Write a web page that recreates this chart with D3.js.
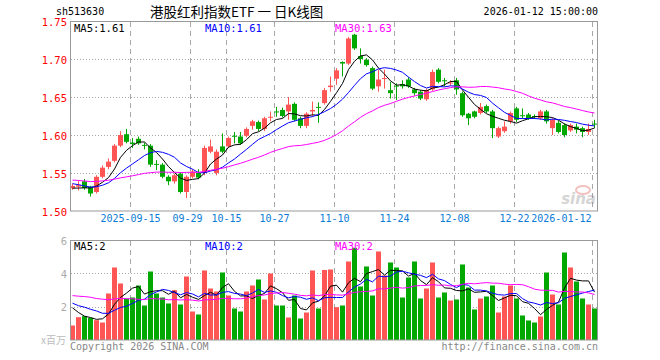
<!DOCTYPE html>
<html><head><meta charset="utf-8">
<script src="https://cdn.jsdelivr.net/npm/d3@7"></script>
<style>body{margin:0;background:#fff}svg{display:block}</style>
</head><body>
<svg id="c" width="660" height="360"></svg>
<script>
const dates = [
"2025-09-01","2025-09-02","2025-09-03","2025-09-04","2025-09-05","2025-09-08","2025-09-09","2025-09-10","2025-09-11","2025-09-12",
"2025-09-15","2025-09-16","2025-09-17","2025-09-18","2025-09-19","2025-09-22","2025-09-23","2025-09-24","2025-09-25","2025-09-26",
"2025-09-29","2025-09-30","2025-10-09","2025-10-10","2025-10-13","2025-10-14","2025-10-15","2025-10-16","2025-10-17","2025-10-20",
"2025-10-21","2025-10-22","2025-10-23","2025-10-24","2025-10-27","2025-10-28","2025-10-29","2025-10-30","2025-10-31","2025-11-03",
"2025-11-04","2025-11-05","2025-11-06","2025-11-07","2025-11-10","2025-11-11","2025-11-12","2025-11-13","2025-11-14","2025-11-17",
"2025-11-18","2025-11-19","2025-11-20","2025-11-21","2025-11-24","2025-11-25","2025-11-26","2025-11-27","2025-11-28","2025-12-01",
"2025-12-02","2025-12-03","2025-12-04","2025-12-05","2025-12-08","2025-12-09","2025-12-10","2025-12-11","2025-12-12","2025-12-15",
"2025-12-16","2025-12-17","2025-12-18","2025-12-19","2025-12-22","2025-12-23","2025-12-24","2025-12-25","2025-12-26","2025-12-29",
"2025-12-30","2025-12-31","2026-01-05","2026-01-06","2026-01-07","2026-01-08","2026-01-09","2026-01-12"];

const opens = [
1.530,1.532,1.539,1.532,1.525,1.545,1.558,1.566,1.586,1.601,
1.590,1.595,1.587,1.586,1.562,1.561,1.545,1.539,1.549,1.525,
1.545,1.550,1.550,1.578,1.550,1.585,1.585,1.599,1.598,1.599,
1.612,1.617,1.608,1.623,1.631,1.633,1.631,1.641,1.622,1.612,
1.631,1.637,1.642,1.663,1.674,1.696,1.694,1.732,1.704,1.699,
1.688,1.664,1.674,1.659,1.665,1.667,1.673,1.660,1.657,1.647,
1.660,1.686,1.672,1.668,1.672,1.655,1.628,1.631,1.629,1.638,
1.631,1.598,1.605,1.618,1.635,1.626,1.627,1.625,1.622,1.631,
1.609,1.616,1.613,1.606,1.611,1.609,1.604,1.615];
const highs = [
1.536,1.540,1.542,1.533,1.547,1.560,1.569,1.588,1.605,1.608,
1.596,1.598,1.590,1.588,1.567,1.563,1.547,1.549,1.551,1.547,
1.555,1.555,1.586,1.594,1.581,1.602,1.598,1.604,1.604,1.610,
1.620,1.619,1.624,1.631,1.637,1.636,1.650,1.643,1.624,1.630,
1.644,1.643,1.662,1.677,1.688,1.697,1.729,1.733,1.714,1.701,
1.690,1.686,1.686,1.670,1.668,1.672,1.676,1.662,1.659,1.661,
1.686,1.688,1.675,1.672,1.675,1.657,1.629,1.632,1.642,1.640,
1.633,1.611,1.618,1.631,1.637,1.635,1.629,1.627,1.633,1.633,
1.622,1.619,1.615,1.615,1.615,1.611,1.615,1.620];
const lows = [
1.528,1.527,1.528,1.519,1.523,1.543,1.555,1.564,1.584,1.589,
1.583,1.587,1.581,1.558,1.554,1.543,1.534,1.536,1.523,1.517,
1.543,1.542,1.547,1.576,1.547,1.576,1.583,1.589,1.587,1.597,
1.607,1.605,1.605,1.618,1.624,1.623,1.620,1.618,1.609,1.609,
1.624,1.616,1.640,1.657,1.666,1.677,1.692,1.712,1.694,1.690,
1.659,1.657,1.661,1.648,1.646,1.661,1.662,1.652,1.646,1.645,
1.658,1.668,1.664,1.665,1.653,1.624,1.613,1.622,1.627,1.629,
1.596,1.596,1.603,1.615,1.617,1.622,1.620,1.621,1.620,1.615,
1.600,1.602,1.597,1.604,1.602,1.597,1.600,1.609];
const closes = [
1.533,1.534,1.530,1.523,1.545,1.557,1.565,1.586,1.600,1.591,
1.588,1.589,1.586,1.561,1.561,1.545,1.539,1.547,1.525,1.545,
1.552,1.544,1.583,1.585,1.578,1.578,1.596,1.598,1.589,1.608,
1.618,1.608,1.622,1.624,1.630,1.625,1.640,1.620,1.612,1.628,
1.633,1.636,1.659,1.665,1.685,1.694,1.727,1.714,1.700,1.692,
1.661,1.673,1.675,1.655,1.664,1.664,1.664,1.655,1.648,1.659,
1.683,1.670,1.671,1.669,1.660,1.626,1.622,1.624,1.637,1.631,
1.609,1.609,1.611,1.629,1.620,1.625,1.622,1.624,1.631,1.618,
1.620,1.604,1.600,1.613,1.607,1.604,1.608,1.614];
const volumes = [
0.87,1.37,1.43,1.33,1.19,1.05,2.79,4.35,3.39,2.49,
2.55,3.27,2.07,4.11,2.79,2.55,2.19,2.99,2.13,3.81,
1.71,1.53,4.17,3.09,2.91,4.05,2.67,1.89,1.71,2.91,
3.27,3.63,2.43,3.99,2.07,2.07,1.35,2.67,1.29,1.65,
4.17,1.89,4.20,4.23,1.97,2.07,4.71,5.53,3.21,4.41,
2.67,5.31,3.87,4.65,4.35,2.55,3.75,4.71,2.49,3.09,
4.65,2.55,2.85,2.37,2.43,4.53,3.15,1.83,2.49,2.61,
3.27,1.65,2.61,3.27,2.49,1.47,1.17,1.05,1.41,4.05,
2.73,2.13,5.25,4.35,3.51,2.49,2.13,1.89];
// closes and volumes of the 29 sessions before the first visible one (for moving averages)
const priorCloses = [1.548,1.552,1.545,1.540,1.536,1.538,1.544,1.549,1.551,1.546,
1.541,1.537,1.535,1.539,1.543,1.547,1.544,1.540,1.538,1.547,
1.548,1.545,1.541,1.538,1.538,1.533,1.528,1.525,1.531];
const priorVolumes = [2.4,2.1,2.6,3.5,2.2,3.8,2.9,2.4,3.1,2.7,
4.2,2.5,2.3,3.3,2.8,3.6,2.6,2.9,3.1,2.8,
2.9,2.3,2.6,2.2,2.45,2.77,2.53,1.73,1.75];
const priceTicks = [1.50,1.55,1.60,1.65,1.70,1.75];
const volTicks = [2,4,6];
const dateTicks = ["2025-09-15","2025-09-29","2025-10-15","2025-10-27","2025-11-10","2025-11-24","2025-12-08","2025-12-22","2026-01-12"];
const dateTickLabels = ["2025-09-15","09-29","10-15","10-27","11-10","11-24","12-08","12-22","2026-01-12"];
const code = "sh513630";
const title = "港股红利指数ETF 一 日K线图";
const stamp = "2026-01-12 15:00:00";

const RED = "#ff5555", GREEN = "#00a800", GRID = "#a8a8a8", FRAME = "#999";
const MONO = "'DejaVu Sans Mono', monospace";
const svg = d3.select("#c");
const n = dates.length;
const x = d3.scaleLinear().domain([0, n]).range([70, 598]);
const yP = d3.scaleLinear().domain([1.50, 1.75]).range([211, 21]);
const yV = d3.scaleLinear().domain([0, 6]).range([340, 240]);
const cx = i => x(i) + 2.5;
const px = v => Math.round(v) + 0.5;

function movingAvg(prior, series, k) {
  const all = prior.concat(series), off = prior.length;
  return series.map((_, i) => d3.mean(all.slice(off + i - k + 1, off + i + 1)));
}

// header
svg.append("text").attr("x", 56).attr("y", 15).attr("font-family", MONO).attr("font-size", 10).attr("fill", "#000").text(code);
svg.append("text").attr("x", 150).attr("y", 17).attr("font-family", "'Noto Sans CJK SC', sans-serif").attr("font-size", 13.5).attr("fill", "#000").text(title);
svg.append("text").attr("x", 598).attr("y", 15).attr("text-anchor", "end").attr("font-family", MONO).attr("font-size", 10).attr("fill", "#000").text(stamp);

function panel(top, bottom, yScale, hTicks) {
  const g = svg.append("g");
  hTicks.forEach(t => {
    g.append("line").attr("x1", 71).attr("x2", 597).attr("y1", px(yScale(t))).attr("y2", px(yScale(t)))
      .attr("stroke", GRID).attr("stroke-dasharray", "1,2");
  });
  dateTicks.forEach(d => {
    const xx = px(x(dates.indexOf(d)));
    g.append("line").attr("x1", xx).attr("x2", xx).attr("y1", top).attr("y2", bottom)
      .attr("stroke", GRID).attr("stroke-dasharray", "5,4");
  });
  return g;
}
panel(22, 211, yP, [1.55, 1.60, 1.65, 1.70]);
panel(241, 340, yV, [2, 4]);

// price axis
const pAxis = svg.append("g").attr("transform", "translate(67,0)")
  .call(d3.axisLeft(yP).tickValues(priceTicks).tickFormat(d3.format(".2f")).tickSize(0).tickPadding(0));
pAxis.select(".domain").remove();
pAxis.selectAll("text").attr("font-family", MONO).attr("font-size", 10.5).attr("fill", "#ff0000").attr("dy", "0.4em");

// volume axis
const vAxis = svg.append("g").attr("transform", "translate(67,0)")
  .call(d3.axisLeft(yV).tickValues(volTicks).tickFormat(d3.format("d")).tickSize(0).tickPadding(0));
vAxis.select(".domain").remove();
vAxis.selectAll("text").attr("font-family", MONO).attr("font-size", 10.5).attr("fill", "#aaa").attr("dy", "0.4em");

// date axis
const dAxis = svg.append("g").attr("transform", "translate(0,214)")
  .call(d3.axisBottom(x).tickValues(dateTicks.map(d => dates.indexOf(d)))
    .tickFormat((d, i) => dateTickLabels[i]).tickSize(0).tickPadding(0));
dAxis.select(".domain").remove();
dAxis.selectAll("text").attr("font-family", MONO).attr("font-size", 10).attr("fill", "#0a7bd6").attr("dy", "0.8em")
  .attr("text-anchor", (d, i) => i === dateTicks.length - 1 ? "end" : "middle")
  .attr("dx", (d, i) => i === dateTicks.length - 1 ? -1 : (i === 1 ? -3 : 0));

// candles
const up = i => closes[i] >= opens[i];
const cg = svg.append("g");
cg.selectAll("line.wick").data(d3.range(n)).join("line")
  .attr("x1", i => cx(i)).attr("x2", i => cx(i))
  .attr("y1", i => yP(highs[i])).attr("y2", i => yP(lows[i]))
  .attr("stroke", i => up(i) ? RED : GREEN).attr("stroke-width", 1);
cg.selectAll("rect.body").data(d3.range(n)).join("rect")
  .attr("x", i => x(i)).attr("width", 5)
  .attr("y", i => yP(Math.max(opens[i], closes[i])))
  .attr("height", i => Math.max(1, yP(Math.min(opens[i], closes[i])) - yP(Math.max(opens[i], closes[i]))))
  .attr("fill", i => up(i) ? RED : GREEN);

// price MAs
const maDefs = [[5, "#000000"], [10, "#0000ff"], [30, "#ff00ff"]];
const lineP = d3.line().x((d, i) => cx(i)).y(d => yP(d));
maDefs.forEach(([k, c]) => {
  svg.append("path").datum(movingAvg(priorCloses, closes, k)).attr("d", lineP)
    .attr("fill", "none").attr("stroke", c).attr("stroke-width", 1);
});

// volume bars
svg.append("g").selectAll("rect").data(d3.range(n)).join("rect")
  .attr("x", i => x(i)).attr("width", 5)
  .attr("y", i => yV(volumes[i])).attr("height", i => yV(0) - yV(volumes[i]))
  .attr("fill", i => up(i) ? RED : GREEN);
const lineV = d3.line().x((d, i) => cx(i)).y(d => yV(d));
maDefs.forEach(([k, c]) => {
  svg.append("path").datum(movingAvg(priorVolumes, volumes, k)).attr("d", lineV)
    .attr("fill", "none").attr("stroke", c).attr("stroke-width", 1);
});

// frames
svg.append("rect").attr("x", 70.5).attr("y", 21.5).attr("width", 527).attr("height", 189.5)
  .attr("fill", "none").attr("stroke", FRAME);
svg.append("rect").attr("x", 70.5).attr("y", 240.5).attr("width", 527).attr("height", 99.5)
  .attr("fill", "none").attr("stroke", FRAME);

// MA labels
const labX = [74, 205, 335];
const fmt2 = d3.format(".2f");
maDefs.forEach(([k, c], j) => {
  const mp = movingAvg(priorCloses, closes, k);
  svg.append("text").attr("x", labX[j]).attr("y", 31.5).attr("font-family", MONO).attr("font-size", 10.5)
    .attr("fill", c).text(`MA${k}:${fmt2(mp[n - 1])}`);
  const mv = movingAvg(priorVolumes, volumes, k);
  svg.append("text").attr("x", labX[j]).attr("y", 250).attr("font-family", MONO).attr("font-size", 10.5)
    .attr("fill", c).text(`MA${k}:${Math.floor(mv[n - 1])}`);
});

// watermark
const wm = svg.append("g").attr("opacity", 0.35);
wm.append("ellipse").attr("cx", 583).attr("cy", 190).attr("rx", 7).attr("ry", 4).attr("fill", "none").attr("stroke", "#e05050").attr("stroke-width", 2);
wm.append("text").attr("x", 596).attr("y", 204).attr("text-anchor", "end").attr("font-family", "Verdana, 'DejaVu Sans', sans-serif")
  .attr("font-style", "italic").attr("font-weight", "bold").attr("font-size", 15).attr("fill", "#888").text("sina");

// footer
svg.append("text").attr("x", 41).attr("y", 344).attr("font-family", "'Noto Sans CJK SC', sans-serif").attr("font-size", 10).attr("fill", "#bbb").text("x百万");
svg.append("text").attr("x", 70).attr("y", 350).attr("font-family", MONO).attr("font-size", 10).attr("fill", "#888").text("Copyright 2026 SINA.COM");
svg.append("text").attr("x", 598).attr("y", 350).attr("text-anchor", "end").attr("font-family", MONO).attr("font-size", 10).attr("fill", "#888").text("http://finance.sina.com.cn");
</script>
</body></html>
